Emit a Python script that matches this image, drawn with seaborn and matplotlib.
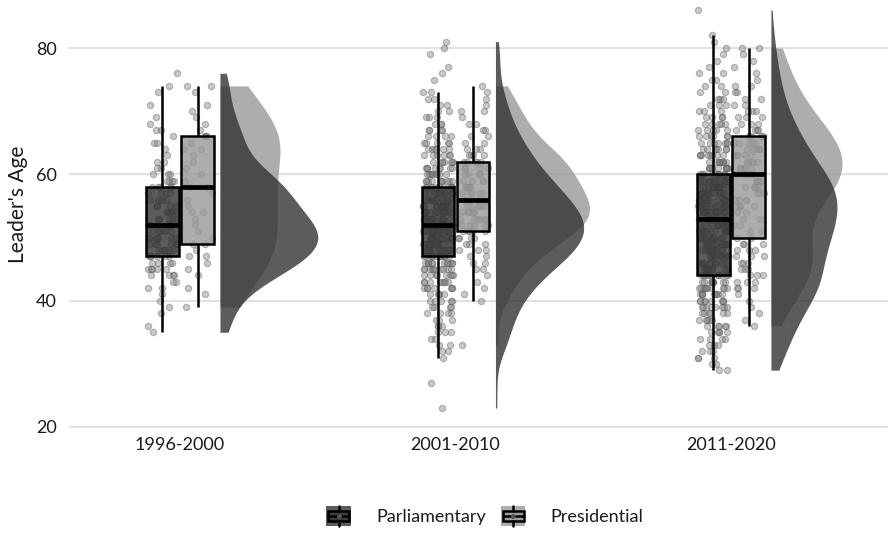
import numpy as np
import pandas as pd
import matplotlib
matplotlib.use("Agg")
import matplotlib.pyplot as plt
import seaborn as sns
from matplotlib.legend_handler import HandlerBase
from matplotlib.patches import Rectangle, Patch
from matplotlib.lines import Line2D
from matplotlib.colors import to_rgb

periods = ["1996-2000", "2001-2010", "2011-2020"]
systems = ["Parliamentary", "Presidential"]
y_ticks = [20, 40, 60, 80]

# Number of leaders at each integer age, starting at the youngest age of the group
parl_1996_start = 35
parl_1996_counts = [1, 1, 0, 1, 1, 1, 1, 2, 2, 4,
                    5, 4, 6, 6, 6, 7, 6, 6, 5, 5,
                    4, 4, 4, 5, 4, 3, 2, 2, 1, 1,
                    2, 1, 2, 1, 1, 0, 1, 0, 1, 1, 0, 1]
pres_1996_start = 39
pres_1996_counts = [1, 0, 1, 1, 0, 1, 1, 1, 2, 1,
                    2, 1, 1, 1, 1, 2, 1, 1, 1, 2,
                    1, 1, 1, 1, 1, 2, 1, 3, 1, 1,
                    1, 1, 1, 0, 1, 2]
parl_2001_start = 23
parl_2001_counts = [1, 0, 0, 0, 1, 0, 0, 0,
                    1, 2, 2, 2, 3, 3, 3, 4, 4, 5,
                    5, 7, 8, 8, 10, 12, 13, 14, 15, 16,
                    16, 16, 16, 15, 14, 13, 12, 11, 10, 9,
                    8, 7, 6, 6, 5, 4, 4, 3, 3, 2,
                    2, 2, 2, 0, 1, 1, 1, 0, 1, 1, 1]
pres_2001_start = 33
pres_2001_counts = [1, 0, 0, 0, 0, 0, 0,
                    1, 1, 1, 1, 1, 2, 2, 2, 3, 3,
                    4, 5, 5, 6, 6, 5, 5, 5, 5, 4,
                    4, 4, 5, 4, 3, 2, 2, 2, 2, 1,
                    2, 1, 1, 1, 1]
parl_2011_start = 29
parl_2011_counts = [2, 2, 3, 3, 3, 4, 5, 5, 5, 6,
                    8, 8, 9, 10, 10, 11, 10, 10, 10, 10,
                    12, 12, 12, 13, 13, 13, 13, 14, 14, 13,
                    12, 11, 10, 9, 8, 7, 7, 6, 5, 5,
                    4, 3, 3, 3, 2, 2, 2, 2, 1, 1,
                    1, 1, 1, 1, 0, 0, 0, 1]
pres_2011_start = 36
pres_2011_counts = [1, 1, 1, 1, 1, 1, 3, 3, 3, 3,
                    3, 3, 3, 3, 2, 2, 2, 2, 2, 4,
                    4, 3, 5, 5, 5, 5, 5, 5, 5, 5,
                    4, 4, 3, 3, 3, 2, 2, 2, 2, 1,
                    1, 1, 1, 1, 2]

groups = {
    ("1996-2000", "Parliamentary"): (parl_1996_start, parl_1996_counts),
    ("1996-2000", "Presidential"): (pres_1996_start, pres_1996_counts),
    ("2001-2010", "Parliamentary"): (parl_2001_start, parl_2001_counts),
    ("2001-2010", "Presidential"): (pres_2001_start, pres_2001_counts),
    ("2011-2020", "Parliamentary"): (parl_2011_start, parl_2011_counts),
    ("2011-2020", "Presidential"): (pres_2011_start, pres_2011_counts),
}
frames = []
for (p, s), (start, counts) in groups.items():
    ages = np.repeat(np.arange(start, start + len(counts)), counts)
    frames.append(pd.DataFrame({"period": p, "system": s, "age": ages}))
df = pd.concat(frames, ignore_index=True)

fill = {"Parliamentary": "#333333", "Presidential": "#999999"}

sns.set_theme(style="white")
plt.rcParams["font.family"] = ["Lato", "DejaVu Sans"]

fig = plt.figure(figsize=(8.9, 5.33), dpi=100)
ax = fig.add_axes([69 / 890, 1 - 430 / 533, 819 / 890, 430 / 533])

box_off = 0.064
vio_off = 0.145
max_w = 0.355

# half violins (trimmed gaussian KDE, bw.nrd0)
dens = {}
for (p, s), sub in df.groupby(["period", "system"]):
    v = sub["age"].to_numpy(dtype=float)
    n = len(v)
    sd = v.std(ddof=1)
    q1, q3 = np.percentile(v, [25, 75])
    bw = 0.9 * min(sd, (q3 - q1) / 1.34) * n ** -0.2
    grid = np.linspace(v.min(), v.max(), 512)
    d = np.exp(-0.5 * ((grid[:, None] - v[None, :]) / bw) ** 2).sum(1) / (n * bw * np.sqrt(2 * np.pi))
    dens[(p, s)] = (grid, d)
gmax = max(d.max() for _, d in dens.values())
for i, p in enumerate(periods):
    for s in ["Presidential", "Parliamentary"]:
        grid, d = dens[(p, s)]
        base = i + vio_off
        ax.fill_betweenx(grid, base, base + d / gmax * max_w, color=fill[s],
                         alpha=0.8, lw=0, zorder=1)

# jittered points
np.random.seed(11)
for s, dx in zip(systems, [-box_off, box_off]):
    nb = len(ax.collections)
    sns.stripplot(data=df[df["system"] == s], x="period", y="age", order=periods,
                  jitter=0.055, color="#7a7a7a", alpha=0.4, size=4.5,
                  linewidth=0.9, edgecolor="#606060", ax=ax, zorder=1.5)
    for c in ax.collections[nb:]:
        off = c.get_offsets().copy()
        off[:, 0] += dx
        c.set_offsets(off)

# boxes
sns.boxplot(data=df, x="period", y="age", hue="system", order=periods,
            hue_order=systems, palette=fill, saturation=1, width=0.256, gap=0.08,
            dodge=True, showfliers=False, showcaps=False, linecolor="black",
            linewidth=1.8, medianprops={"linewidth": 3.4}, whis=1.5,
            legend=False, ax=ax)
for patch in ax.patches:
    r, g, b = to_rgb(patch.get_facecolor())
    patch.set_facecolor((r, g, b, 0.8))

ax.set_xlim(-0.403, 2.57)
ax.set_ylim(19.525, 87.6)
ax.set_yticks(y_ticks)
ax.yaxis.grid(True, color="#e2e2e2", lw=1.6)
ax.xaxis.grid(False)
ax.set_axisbelow(True)
for sp in ax.spines.values():
    sp.set_visible(False)
ax.tick_params(length=0, labelsize=13, colors="#1a1a1a")
ax.tick_params(axis="y", pad=9)
ax.tick_params(axis="x", pad=5)
ax.set_xlabel("")
ax.set_ylabel("Leader's Age", fontsize=15, color="#1a1a1a")
ax.yaxis.set_label_coords(-0.050, 0.526)


class BoxKey(HandlerBase):
    def create_artists(self, legend, orig, xd, yd, w, h, fs, trans):
        r, g, b = to_rgb(orig.get_facecolor())
        x0, y0 = -xd, -yd
        arts = [Rectangle((x0, y0), w, h, facecolor=(r, g, b, 0.8), edgecolor="none")]
        bx0, bx1 = x0 + 0.08 * w, x0 + 0.92 * w
        by0, by1 = y0 + 0.24 * h, y0 + 0.76 * h
        arts.append(Rectangle((bx0, by0), bx1 - bx0, by1 - by0,
                              facecolor=(r, g, b, 0.8), edgecolor="black", lw=1.8))
        xm = x0 + w / 2
        arts.append(Line2D([bx0, bx1], [y0 + h / 2] * 2, color="black", lw=1.8))
        arts.append(Line2D([xm, xm], [by1, y0 + h], color="black", lw=1.8))
        arts.append(Line2D([xm, xm], [y0, by0], color="black", lw=1.8))
        arts.append(Line2D([xm], [y0 + h / 2], marker="o", ms=2.5, color="#555555", lw=0))
        for a in arts:
            a.set_transform(trans)
        return arts


handles = [Patch(facecolor=fill[s], label=s) for s in systems]
leg = fig.legend(handles, systems, handler_map={Patch: BoxKey()}, loc="center",
                 bbox_to_anchor=(485 / 890, 1 - 516 / 533), ncol=2, frameon=False,
                 fontsize=13, handlelength=1.35, handleheight=1.4,
                 handletextpad=1.4, columnspacing=0.85)
for t in leg.get_texts():
    t.set_color("#1a1a1a")

fig.savefig("out.png", dpi=100)
